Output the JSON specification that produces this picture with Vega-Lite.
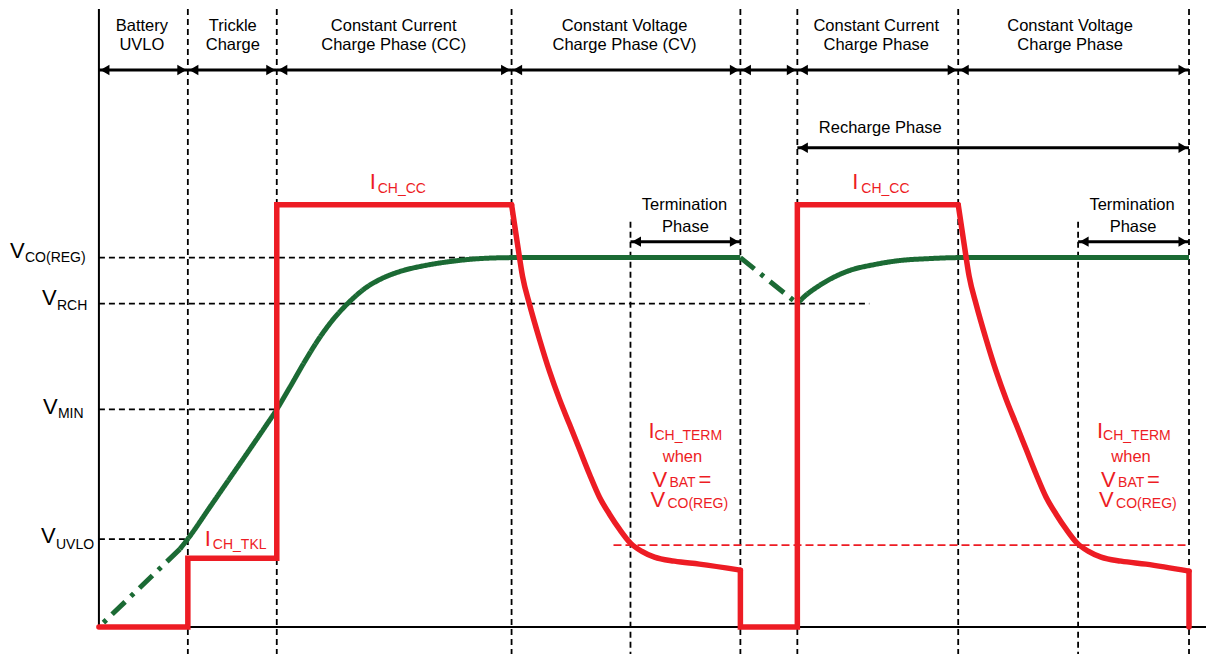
{
  "$schema": "https://vega.github.io/schema/vega-lite/v6.json",
  "width": 1207,
  "height": 655,
  "autosize": {"type": "fit", "contains": "padding"},
  "padding": 0,
  "background": "white",
  "config": {"view": {"stroke": null}, "text": {"font": "Liberation Sans"}},
  "datasets": {
    "guides": [
      {"t": 188, "v": 646, "t2": 188, "v2": 0},
      {"t": 277, "v": 646, "t2": 277, "v2": 0},
      {"t": 512, "v": 646, "t2": 512, "v2": 0},
      {"t": 741, "v": 646, "t2": 741, "v2": 0},
      {"t": 798, "v": 646, "t2": 798, "v2": 0},
      {"t": 959, "v": 646, "t2": 959, "v2": 0},
      {"t": 1190, "v": 646, "t2": 1190, "v2": 0},
      {"t": 631, "v": 433, "t2": 631, "v2": 0},
      {"t": 1079, "v": 433, "t2": 1079, "v2": 0},
      {"t": 99, "v": 397, "t2": 512, "v2": 397},
      {"t": 99, "v": 351, "t2": 870, "v2": 351},
      {"t": 99, "v": 245, "t2": 277, "v2": 245},
      {"t": 99, "v": 115, "t2": 188, "v2": 115}
    ],
    "termLevel": [{"t": 614, "t2": 1190, "v": 109}],
    "frame": [
      {"t": 99, "v": 646, "t2": 99, "v2": 27},
      {"t": 99, "v": 27, "t2": 1207, "v2": 27}
    ],
    "spans": [
      {"t": 99, "t2": 188, "v": 585},
      {"t": 188, "t2": 277, "v": 585},
      {"t": 277, "t2": 512, "v": 585},
      {"t": 512, "t2": 741, "v": 585},
      {"t": 741, "t2": 798, "v": 585},
      {"t": 798, "t2": 959, "v": 585},
      {"t": 959, "t2": 1190, "v": 585},
      {"t": 798, "t2": 1190, "v": 507},
      {"t": 631, "t2": 741, "v": 413},
      {"t": 1079, "t2": 1190, "v": 413}
    ],
    "vbat": [
      {"i": 1, "seg": "A", "trace": "projected", "t": 180, "v": 105},
      {"i": 2, "seg": "A", "trace": "projected", "t": 100, "v": 28},
      {"i": 3, "seg": "B", "trace": "actual", "t": 180, "v": 105},
      {"i": 4, "seg": "B", "trace": "actual", "t": 190, "v": 118},
      {"i": 5, "seg": "B", "trace": "actual", "t": 210, "v": 147},
      {"i": 6, "seg": "B", "trace": "actual", "t": 230, "v": 176},
      {"i": 7, "seg": "B", "trace": "actual", "t": 250, "v": 205},
      {"i": 8, "seg": "B", "trace": "actual", "t": 265, "v": 227},
      {"i": 9, "seg": "B", "trace": "actual", "t": 277, "v": 245},
      {"i": 10, "seg": "B", "trace": "actual", "t": 290, "v": 267},
      {"i": 11, "seg": "B", "trace": "actual", "t": 305, "v": 293},
      {"i": 12, "seg": "B", "trace": "actual", "t": 320, "v": 317},
      {"i": 13, "seg": "B", "trace": "actual", "t": 335, "v": 337},
      {"i": 14, "seg": "B", "trace": "actual", "t": 350, "v": 353},
      {"i": 15, "seg": "B", "trace": "actual", "t": 365, "v": 366},
      {"i": 16, "seg": "B", "trace": "actual", "t": 380, "v": 375},
      {"i": 17, "seg": "B", "trace": "actual", "t": 400, "v": 383},
      {"i": 18, "seg": "B", "trace": "actual", "t": 425, "v": 389},
      {"i": 19, "seg": "B", "trace": "actual", "t": 450, "v": 393},
      {"i": 20, "seg": "B", "trace": "actual", "t": 480, "v": 396},
      {"i": 21, "seg": "B", "trace": "actual", "t": 515, "v": 397},
      {"i": 22, "seg": "B", "trace": "actual", "t": 741, "v": 397},
      {"i": 23, "seg": "C", "trace": "projected", "t": 741, "v": 397},
      {"i": 24, "seg": "C", "trace": "projected", "t": 798, "v": 351},
      {"i": 25, "seg": "D", "trace": "actual", "t": 798, "v": 351},
      {"i": 26, "seg": "D", "trace": "actual", "t": 805, "v": 358},
      {"i": 27, "seg": "D", "trace": "actual", "t": 817, "v": 367},
      {"i": 28, "seg": "D", "trace": "actual", "t": 830, "v": 375},
      {"i": 29, "seg": "D", "trace": "actual", "t": 850, "v": 384},
      {"i": 30, "seg": "D", "trace": "actual", "t": 875, "v": 390},
      {"i": 31, "seg": "D", "trace": "actual", "t": 900, "v": 394},
      {"i": 32, "seg": "D", "trace": "actual", "t": 930, "v": 396},
      {"i": 33, "seg": "D", "trace": "actual", "t": 960, "v": 397},
      {"i": 34, "seg": "D", "trace": "actual", "t": 1190, "v": 397}
    ],
    "ichgSteps": [
      {"i": 1, "seg": "P1", "t": 99, "v": 27},
      {"i": 2, "seg": "P1", "t": 188, "v": 27},
      {"i": 3, "seg": "P1", "t": 188, "v": 96},
      {"i": 4, "seg": "P1", "t": 277, "v": 96},
      {"i": 5, "seg": "P1", "t": 277, "v": 450},
      {"i": 6, "seg": "P1", "t": 512, "v": 450},
      {"i": 7, "seg": "P2", "t": 741, "v": 84},
      {"i": 8, "seg": "P2", "t": 741, "v": 27},
      {"i": 9, "seg": "P2", "t": 798, "v": 27},
      {"i": 10, "seg": "P2", "t": 798, "v": 450},
      {"i": 11, "seg": "P2", "t": 959, "v": 450},
      {"i": 12, "seg": "P3", "t": 1190, "v": 83},
      {"i": 13, "seg": "P3", "t": 1190, "v": 27}
    ],
    "ichgDecay": [
      {"seg": "D1", "t": 512, "v": 450},
      {"seg": "D1", "t": 518, "v": 410},
      {"seg": "D1", "t": 523, "v": 378},
      {"seg": "D1", "t": 530, "v": 350},
      {"seg": "D1", "t": 540, "v": 315},
      {"seg": "D1", "t": 550, "v": 283},
      {"seg": "D1", "t": 560, "v": 255},
      {"seg": "D1", "t": 570, "v": 230},
      {"seg": "D1", "t": 580, "v": 205},
      {"seg": "D1", "t": 590, "v": 180},
      {"seg": "D1", "t": 600, "v": 157},
      {"seg": "D1", "t": 610, "v": 140},
      {"seg": "D1", "t": 620, "v": 125},
      {"seg": "D1", "t": 631, "v": 111},
      {"seg": "D1", "t": 642, "v": 103},
      {"seg": "D1", "t": 655, "v": 97},
      {"seg": "D1", "t": 675, "v": 93},
      {"seg": "D1", "t": 700, "v": 90},
      {"seg": "D1", "t": 741, "v": 84},
      {"seg": "D2", "t": 959, "v": 450},
      {"seg": "D2", "t": 965, "v": 410},
      {"seg": "D2", "t": 970, "v": 378},
      {"seg": "D2", "t": 977, "v": 350},
      {"seg": "D2", "t": 987, "v": 315},
      {"seg": "D2", "t": 997, "v": 283},
      {"seg": "D2", "t": 1007, "v": 255},
      {"seg": "D2", "t": 1017, "v": 230},
      {"seg": "D2", "t": 1027, "v": 205},
      {"seg": "D2", "t": 1037, "v": 180},
      {"seg": "D2", "t": 1047, "v": 157},
      {"seg": "D2", "t": 1057, "v": 140},
      {"seg": "D2", "t": 1067, "v": 125},
      {"seg": "D2", "t": 1078, "v": 111},
      {"seg": "D2", "t": 1089, "v": 103},
      {"seg": "D2", "t": 1102, "v": 97},
      {"seg": "D2", "t": 1122, "v": 93},
      {"seg": "D2", "t": 1147, "v": 90},
      {"seg": "D2", "t": 1190, "v": 83}
    ],
    "labels": [
      {"label": "Battery", "t": 142, "v": 624, "kind": "phase"},
      {"label": "UVLO", "t": 142, "v": 605, "kind": "phase"},
      {"label": "Trickle", "t": 233, "v": 624, "kind": "phase"},
      {"label": "Charge", "t": 233, "v": 605, "kind": "phase"},
      {"label": "Constant Current", "t": 394, "v": 624, "kind": "phase"},
      {"label": "Charge Phase (CC)", "t": 394, "v": 605, "kind": "phase"},
      {"label": "Constant Voltage", "t": 625, "v": 624, "kind": "phase"},
      {"label": "Charge Phase (CV)", "t": 625, "v": 605, "kind": "phase"},
      {"label": "Constant Current", "t": 877, "v": 624, "kind": "phase"},
      {"label": "Charge Phase", "t": 877, "v": 605, "kind": "phase"},
      {"label": "Constant Voltage", "t": 1071, "v": 624, "kind": "phase"},
      {"label": "Charge Phase", "t": 1071, "v": 605, "kind": "phase"},
      {"label": "Recharge Phase", "t": 881, "v": 522, "kind": "phase"},
      {"label": "Termination", "t": 685, "v": 445, "kind": "phase"},
      {"label": "Phase", "t": 686, "v": 423, "kind": "phase"},
      {"label": "Termination", "t": 1133, "v": 445, "kind": "phase"},
      {"label": "Phase", "t": 1134, "v": 423, "kind": "phase"},
      {"label": "when", "t": 683, "v": 192, "kind": "current"},
      {"label": "when", "t": 1132, "v": 192, "kind": "current"}
    ],
    "symbols": [
      {"label": "V", "t": 10, "v": 397, "kind": "voltage"},
      {"label": "V", "t": 42, "v": 350, "kind": "voltage"},
      {"label": "V", "t": 43, "v": 240, "kind": "voltage"},
      {"label": "V", "t": 41, "v": 111, "kind": "voltage"},
      {"label": "I", "t": 370, "v": 466, "kind": "current"},
      {"label": "I", "t": 853, "v": 466, "kind": "current"},
      {"label": "I", "t": 205, "v": 108, "kind": "current"},
      {"label": "I", "t": 649, "v": 216, "kind": "current"},
      {"label": "V", "t": 653, "v": 167, "kind": "current"},
      {"label": "=", "t": 699, "v": 167, "kind": "current"},
      {"label": "V", "t": 651, "v": 147, "kind": "current"},
      {"label": "I", "t": 1098, "v": 216, "kind": "current"},
      {"label": "V", "t": 1102, "v": 167, "kind": "current"},
      {"label": "=", "t": 1148, "v": 167, "kind": "current"},
      {"label": "V", "t": 1100, "v": 147, "kind": "current"}
    ],
    "subscripts": [
      {"label": "CO(REG)", "t": 25, "v": 393, "kind": "voltage"},
      {"label": "RCH", "t": 57, "v": 345, "kind": "voltage"},
      {"label": "MIN", "t": 58, "v": 236, "kind": "voltage"},
      {"label": "UVLO", "t": 56, "v": 105, "kind": "voltage"},
      {"label": "CH_CC", "t": 378, "v": 462, "kind": "current"},
      {"label": "CH_CC", "t": 862, "v": 462, "kind": "current"},
      {"label": "CH_TKL", "t": 213, "v": 105, "kind": "current"},
      {"label": "CH_TERM", "t": 655, "v": 214, "kind": "current"},
      {"label": "BAT", "t": 670, "v": 167, "kind": "current"},
      {"label": "CO(REG)", "t": 668, "v": 146, "kind": "current"},
      {"label": "CH_TERM", "t": 1104, "v": 214, "kind": "current"},
      {"label": "BAT", "t": 1119, "v": 167, "kind": "current"},
      {"label": "CO(REG)", "t": 1117, "v": 146, "kind": "current"}
    ]
  },
  "encoding": {
    "x": {"field": "t", "type": "quantitative", "scale": {"domain": [0, 1207], "nice": false, "zero": false}, "axis": null},
    "y": {"field": "v", "type": "quantitative", "scale": {"domain": [0, 655], "nice": false, "zero": false}, "axis": null}
  },
  "layer": [
    {
      "data": {"name": "guides"},
      "mark": {"type": "rule", "color": "black", "strokeWidth": 1.8, "strokeDash": [6, 4]},
      "encoding": {"x2": {"field": "t2"}, "y2": {"field": "v2"}}
    },
    {
      "data": {"name": "termLevel"},
      "mark": {"type": "rule", "color": "#ed1c24", "strokeWidth": 1.8, "strokeDash": [8, 4]},
      "encoding": {"x2": {"field": "t2"}}
    },
    {
      "data": {"name": "frame"},
      "mark": {"type": "rule", "color": "black", "strokeWidth": 2},
      "encoding": {"x2": {"field": "t2"}, "y2": {"field": "v2"}}
    },
    {
      "data": {"name": "spans"},
      "mark": {"type": "rule", "color": "black", "strokeWidth": 3},
      "encoding": {"x2": {"field": "t2"}}
    },
    {
      "data": {"name": "spans"},
      "mark": {"type": "point", "shape": "triangle-left", "filled": true, "color": "black", "opacity": 1, "size": 110, "xOffset": 6}
    },
    {
      "data": {"name": "spans"},
      "mark": {"type": "point", "shape": "triangle-right", "filled": true, "color": "black", "opacity": 1, "size": 110, "xOffset": -6},
      "encoding": {"x": {"field": "t2", "type": "quantitative", "axis": null}}
    },
    {
      "data": {"name": "vbat"},
      "mark": {"type": "line", "color": "#1b6a34", "strokeWidth": 5, "interpolate": "monotone"},
      "encoding": {
        "detail": {"field": "seg"},
        "order": {"field": "i", "type": "quantitative"},
        "strokeDash": {"field": "trace", "type": "nominal", "scale": {"domain": ["actual", "projected"], "range": [[1, 0], [18, 8, 4, 8]]}, "legend": null}
      }
    },
    {
      "data": {"name": "ichgSteps"},
      "mark": {"type": "line", "color": "#ed1c24", "strokeWidth": 5.5, "strokeCap": "round"},
      "encoding": {"detail": {"field": "seg"}, "order": {"field": "i", "type": "quantitative"}}
    },
    {
      "data": {"name": "ichgDecay"},
      "mark": {"type": "line", "color": "#ed1c24", "strokeWidth": 5.5, "strokeCap": "round", "interpolate": "monotone"},
      "encoding": {"detail": {"field": "seg"}}
    },
    {
      "data": {"name": "labels"},
      "mark": {"type": "text", "fontSize": 16.5, "align": "center", "baseline": "alphabetic"},
      "encoding": {
        "text": {"field": "label"},
        "color": {"field": "kind", "type": "nominal", "scale": {"domain": ["phase", "voltage", "current"], "range": ["#000000", "#000000", "#ed1c24"]}, "legend": null}
      }
    },
    {
      "data": {"name": "symbols"},
      "mark": {"type": "text", "fontSize": 22, "align": "left", "baseline": "alphabetic"},
      "encoding": {
        "text": {"field": "label"},
        "color": {"field": "kind", "type": "nominal", "legend": null}
      }
    },
    {
      "data": {"name": "subscripts"},
      "mark": {"type": "text", "fontSize": 14, "align": "left", "baseline": "alphabetic"},
      "encoding": {
        "text": {"field": "label"},
        "color": {"field": "kind", "type": "nominal", "legend": null}
      }
    }
  ]
}
